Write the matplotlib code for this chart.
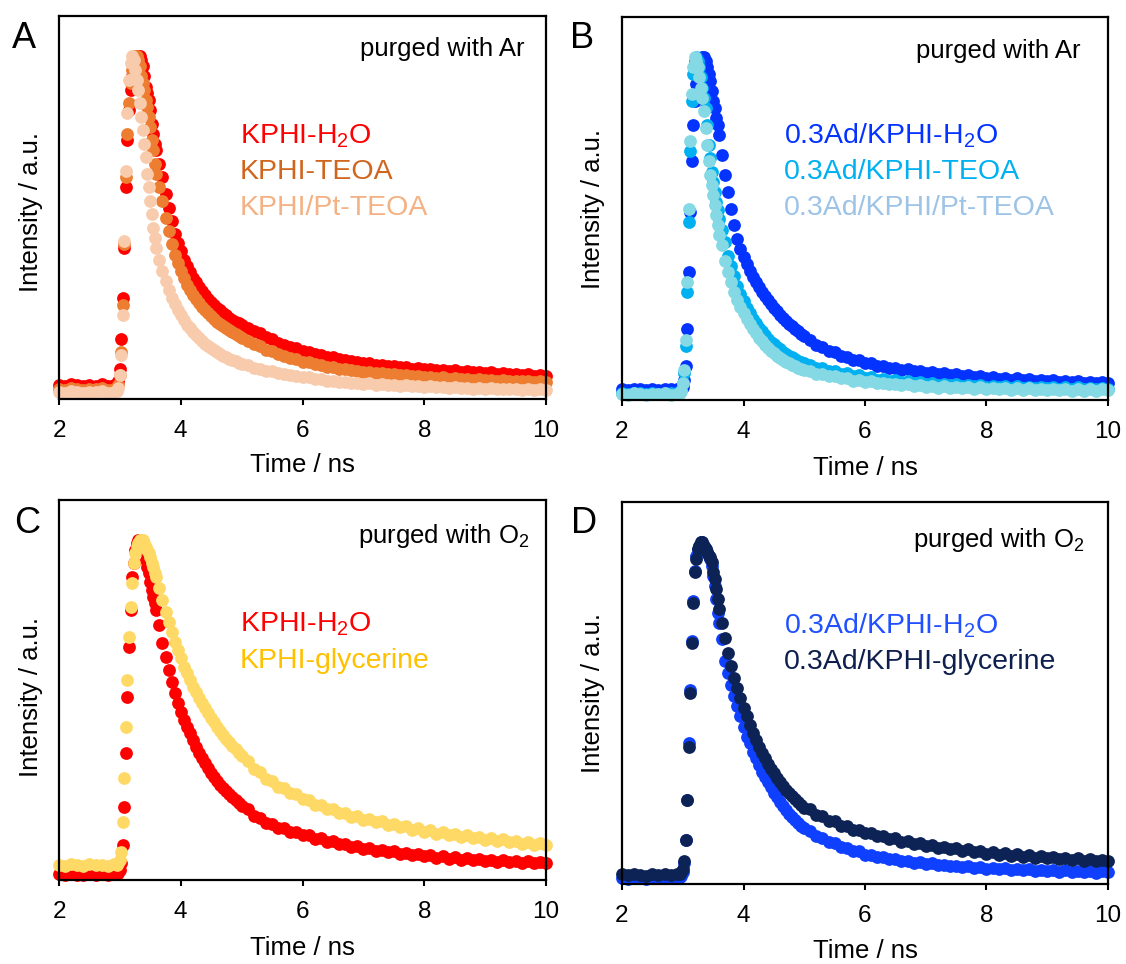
import matplotlib
matplotlib.use('Agg')
import matplotlib.pyplot as plt

plt.rcParams['font.family'] = ['Liberation Sans', 'DejaVu Sans']
plt.rcParams['mathtext.fontset'] = 'custom'
plt.rcParams['mathtext.rm'] = 'Liberation Sans'
plt.rcParams['mathtext.it'] = 'Liberation Sans:italic'
plt.rcParams['mathtext.bf'] = 'Liberation Sans:bold'

# ---------------- data (time in ns, normalised intensity) ----------------
T = [2.0, 2.1, 2.2, 2.3, 2.4, 2.5, 2.6, 2.7, 2.8, 2.9,
     2.95, 2.975, 3.0, 3.025, 3.05, 3.075, 3.1, 3.125, 3.15, 3.175, 3.2, 3.225, 3.25, 3.275,
     3.3, 3.325, 3.35, 3.375, 3.4, 3.425, 3.45, 3.475, 3.5, 3.525, 3.55, 3.575, 3.6,
     3.65, 3.7, 3.75, 3.8, 3.85, 3.9, 3.95, 4.0, 4.05, 4.1, 4.15, 4.2, 4.25, 4.3, 4.35, 4.4,
     4.45, 4.5, 4.55, 4.6, 4.65, 4.7, 4.75, 4.8, 4.85, 4.9, 4.95, 5.0,
     5.1, 5.2, 5.3, 5.4, 5.5, 5.6, 5.7, 5.8, 5.9, 6.0, 6.1, 6.2, 6.3, 6.4, 6.5, 6.6, 6.7, 6.8,
     6.9, 7.0, 7.1, 7.2, 7.3, 7.4, 7.5, 7.6, 7.7, 7.8, 7.9, 8.0, 8.1, 8.2, 8.3, 8.4, 8.5, 8.6,
     8.7, 8.8, 8.9, 9.0, 9.1, 9.2, 9.3, 9.4, 9.5, 9.6, 9.7, 9.8, 9.9, 10.0]

A_kphi_h2o = [0.022, 0.019, 0.024, 0.021, 0.018, 0.023, 0.020, 0.024, 0.019, 0.022,
              0.025, 0.035, 0.07, 0.16, 0.28, 0.43, 0.61, 0.75, 0.84, 0.90, 0.94, 0.97, 0.99, 1.0,
              1.0, 1.0, 0.99, 0.97, 0.94, 0.91, 0.89, 0.87, 0.84, 0.80, 0.77, 0.74, 0.72,
              0.68, 0.64, 0.59, 0.55, 0.51, 0.47, 0.445, 0.42, 0.395, 0.375, 0.357, 0.34, 0.327, 0.312,
              0.30, 0.29, 0.278, 0.27, 0.26, 0.251, 0.244, 0.236, 0.229, 0.222, 0.216, 0.21, 0.205, 0.199,
              0.192, 0.181, 0.175, 0.164, 0.158, 0.147, 0.142, 0.134, 0.131, 0.124,
              0.121, 0.114, 0.111, 0.105, 0.104, 0.099, 0.097, 0.093, 0.091, 0.087,
              0.087, 0.082, 0.081, 0.077, 0.077, 0.074, 0.074, 0.070, 0.071, 0.068,
              0.069, 0.065, 0.067, 0.063, 0.065, 0.061, 0.063, 0.059, 0.060, 0.057,
              0.059, 0.055, 0.057, 0.053, 0.055, 0.051, 0.053, 0.049, 0.051, 0.049]

A_kphi_teoa = [0.011, 0.008, 0.012, 0.010, 0.007, 0.011, 0.009, 0.012, 0.008, 0.010,
               0.014, 0.022, 0.05, 0.12, 0.26, 0.44, 0.64, 0.77, 0.86, 0.92, 0.96, 0.99, 1.0, 1.0,
               0.99, 0.97, 0.94, 0.92, 0.90, 0.87, 0.85, 0.82, 0.79, 0.75, 0.72, 0.68, 0.65,
               0.61, 0.57, 0.52, 0.48, 0.44, 0.41, 0.385, 0.36, 0.34, 0.32, 0.305, 0.29, 0.277, 0.265,
               0.255, 0.245, 0.235, 0.226, 0.218, 0.21, 0.203, 0.196, 0.19, 0.184, 0.178, 0.172, 0.167, 0.162,
               0.154, 0.143, 0.137, 0.127, 0.122, 0.113, 0.109, 0.101, 0.098, 0.091,
               0.089, 0.083, 0.081, 0.076, 0.075, 0.070, 0.069, 0.065, 0.064, 0.060,
               0.060, 0.056, 0.057, 0.053, 0.053, 0.050, 0.051, 0.047, 0.048, 0.045,
               0.046, 0.043, 0.044, 0.041, 0.042, 0.039, 0.041, 0.038, 0.039, 0.036,
               0.038, 0.035, 0.036, 0.034, 0.035, 0.033, 0.034, 0.032, 0.033, 0.032]

A_kphi_pt_teoa = [0.002, -0.001, 0.003, 0.0, -0.002, 0.002, 0.0, 0.003, -0.001, 0.001,
                  0.004, 0.012, 0.05, 0.11, 0.23, 0.45, 0.66, 0.83, 0.93, 0.98, 1.0, 0.99, 0.96, 0.93,
                  0.90, 0.86, 0.82, 0.78, 0.74, 0.70, 0.65, 0.61, 0.57, 0.53, 0.49, 0.46, 0.43,
                  0.395, 0.36, 0.33, 0.305, 0.28, 0.262, 0.245, 0.23, 0.215, 0.201, 0.19, 0.18, 0.17, 0.161,
                  0.153, 0.145, 0.138, 0.131, 0.125, 0.119, 0.114, 0.109, 0.104, 0.1, 0.096, 0.092, 0.088, 0.085,
                  0.080, 0.073, 0.070, 0.064, 0.062, 0.056, 0.055, 0.050, 0.049, 0.044,
                  0.044, 0.039, 0.039, 0.035, 0.035, 0.031, 0.032, 0.028, 0.029, 0.026,
                  0.027, 0.023, 0.025, 0.021, 0.023, 0.019, 0.021, 0.018, 0.019, 0.016,
                  0.018, 0.015, 0.016, 0.013, 0.015, 0.012, 0.014, 0.011, 0.013, 0.010,
                  0.012, 0.010, 0.011, 0.009, 0.010, 0.008, 0.010, 0.007, 0.009, 0.008]

B_ad_h2o = [0.013, 0.011, 0.014, 0.012, 0.010, 0.013, 0.011, 0.014, 0.012, 0.013,
            0.013, 0.014, 0.02, 0.04, 0.08, 0.19, 0.36, 0.54, 0.69, 0.80, 0.87, 0.92, 0.95, 0.97,
            0.99, 1.0, 1.0, 0.99, 0.97, 0.95, 0.93, 0.90, 0.87, 0.85, 0.82, 0.80, 0.77,
            0.71, 0.65, 0.60, 0.55, 0.50, 0.46, 0.43, 0.405, 0.385, 0.365, 0.347, 0.33, 0.316, 0.302,
            0.29, 0.278, 0.266, 0.255, 0.244, 0.234, 0.225, 0.215, 0.207, 0.199, 0.191, 0.184, 0.177, 0.17,
            0.160, 0.145, 0.139, 0.126, 0.122, 0.111, 0.109, 0.099, 0.098, 0.089,
            0.089, 0.081, 0.082, 0.075, 0.076, 0.069, 0.071, 0.065, 0.067, 0.061,
            0.063, 0.057, 0.059, 0.054, 0.056, 0.051, 0.053, 0.048, 0.050, 0.045,
            0.048, 0.043, 0.046, 0.041, 0.044, 0.039, 0.042, 0.037, 0.041, 0.036,
            0.039, 0.034, 0.037, 0.033, 0.036, 0.031, 0.035, 0.030, 0.033, 0.030]

B_ad_teoa = [0.001, -0.002, 0.002, 0.0, -0.001, 0.002, -0.001, 0.001, 0.0, 0.002,
             0.003, 0.01, 0.03, 0.06, 0.14, 0.30, 0.51, 0.72, 0.87, 0.95, 0.99, 1.0, 0.99, 0.97,
             0.94, 0.91, 0.88, 0.85, 0.80, 0.74, 0.70, 0.66, 0.63, 0.60, 0.57, 0.545, 0.52,
             0.485, 0.45, 0.41, 0.38, 0.35, 0.32, 0.295, 0.275, 0.255, 0.238, 0.222, 0.208, 0.195, 0.184,
             0.173, 0.163, 0.154, 0.146, 0.138, 0.131, 0.124, 0.118, 0.112, 0.107, 0.102, 0.097, 0.093, 0.089,
             0.085, 0.076, 0.075, 0.066, 0.066, 0.058, 0.059, 0.052, 0.053, 0.046,
             0.048, 0.041, 0.043, 0.037, 0.039, 0.034, 0.036, 0.031, 0.033, 0.028,
             0.031, 0.026, 0.029, 0.024, 0.027, 0.022, 0.025, 0.021, 0.024, 0.019,
             0.023, 0.018, 0.022, 0.017, 0.021, 0.016, 0.020, 0.016, 0.019, 0.015,
             0.019, 0.014, 0.018, 0.014, 0.018, 0.013, 0.017, 0.013, 0.017, 0.014]

B_ad_pt_teoa = [-0.002, -0.004, 0.0, -0.003, -0.005, -0.001, -0.003, 0.0, -0.004, -0.002,
                0.0, 0.008, 0.03, 0.07, 0.16, 0.33, 0.55, 0.75, 0.89, 0.97, 1.0, 0.99, 0.97, 0.94,
                0.91, 0.88, 0.84, 0.79, 0.74, 0.69, 0.65, 0.62, 0.59, 0.56, 0.53, 0.50, 0.47,
                0.44, 0.395, 0.36, 0.33, 0.30, 0.278, 0.258, 0.24, 0.222, 0.206, 0.192, 0.178, 0.166, 0.155,
                0.145, 0.136, 0.127, 0.119, 0.112, 0.105, 0.099, 0.094, 0.089, 0.084, 0.08, 0.076, 0.072, 0.069,
                0.066, 0.058, 0.058, 0.050, 0.051, 0.044, 0.045, 0.038, 0.040, 0.034,
                0.036, 0.030, 0.032, 0.027, 0.029, 0.024, 0.027, 0.021, 0.024, 0.019,
                0.022, 0.017, 0.021, 0.016, 0.020, 0.015, 0.019, 0.014, 0.018, 0.013,
                0.017, 0.012, 0.016, 0.011, 0.016, 0.010, 0.015, 0.010, 0.014, 0.009,
                0.014, 0.009, 0.013, 0.008, 0.013, 0.008, 0.012, 0.008, 0.012, 0.009]

C_kphi_h2o = [-0.003, -0.006, -0.002, -0.005, -0.004, -0.002, -0.006, -0.003, -0.005, -0.002,
              -0.002, 0.0, 0.01, 0.03, 0.085, 0.2, 0.36, 0.53, 0.68, 0.79, 0.89, 0.93, 0.97, 0.99,
              1.0, 1.0, 0.99, 0.98, 0.97, 0.94, 0.92, 0.90, 0.875, 0.85, 0.83, 0.81, 0.79,
              0.745, 0.69, 0.65, 0.61, 0.575, 0.54, 0.51, 0.485, 0.46, 0.44, 0.42, 0.40, 0.38, 0.36,
              0.345, 0.33, 0.315, 0.30, 0.288, 0.277, 0.266, 0.256, 0.246, 0.237, 0.228, 0.219, 0.211, 0.203,
              0.192, 0.173, 0.167, 0.152, 0.149, 0.137, 0.136, 0.125, 0.124, 0.114,
              0.114, 0.104, 0.105, 0.095, 0.096, 0.087, 0.088, 0.080, 0.082, 0.074,
              0.076, 0.068, 0.071, 0.063, 0.066, 0.059, 0.062, 0.055, 0.058, 0.051,
              0.054, 0.047, 0.051, 0.044, 0.048, 0.041, 0.045, 0.039, 0.043, 0.037,
              0.041, 0.035, 0.039, 0.033, 0.037, 0.031, 0.036, 0.030, 0.034, 0.031]

C_kphi_gly = [0.026, 0.023, 0.028, 0.025, 0.022, 0.027, 0.024, 0.026, 0.023, 0.027,
              0.026, 0.03, 0.04, 0.065, 0.155, 0.285, 0.44, 0.58, 0.71, 0.80, 0.87, 0.93, 0.96, 0.98,
              0.99, 1.0, 1.0, 1.0, 0.99, 0.98, 0.97, 0.96, 0.95, 0.93, 0.92, 0.90, 0.89,
              0.855, 0.82, 0.785, 0.755, 0.725, 0.695, 0.67, 0.645, 0.62, 0.60, 0.58, 0.56, 0.543, 0.527,
              0.511, 0.496, 0.481, 0.467, 0.453, 0.44, 0.428, 0.416, 0.404, 0.393, 0.382, 0.372, 0.362, 0.352,
              0.337, 0.313, 0.304, 0.283, 0.277, 0.259, 0.256, 0.240, 0.238, 0.222,
              0.221, 0.206, 0.206, 0.193, 0.193, 0.180, 0.182, 0.170, 0.173, 0.161,
              0.164, 0.153, 0.156, 0.145, 0.148, 0.138, 0.142, 0.131, 0.135, 0.125,
              0.129, 0.119, 0.124, 0.114, 0.119, 0.109, 0.114, 0.105, 0.110, 0.101,
              0.106, 0.097, 0.102, 0.093, 0.098, 0.089, 0.094, 0.085, 0.091, 0.085]

D_ad_h2o = [-0.001, -0.004, 0.0, -0.002, -0.004, -0.001, -0.003, 0.0, -0.003, -0.001,
            0.0, 0.005, 0.015, 0.043, 0.11, 0.23, 0.40, 0.56, 0.705, 0.825, 0.915, 0.96, 0.98, 0.99,
            1.0, 1.0, 0.99, 0.98, 0.97, 0.96, 0.95, 0.93, 0.90, 0.87, 0.83, 0.79, 0.76,
            0.71, 0.645, 0.61, 0.575, 0.54, 0.51, 0.48, 0.45, 0.42, 0.40, 0.375, 0.355, 0.335, 0.315,
            0.30, 0.285, 0.268, 0.253, 0.24, 0.226, 0.213, 0.201, 0.19, 0.18, 0.17, 0.161, 0.153, 0.146,
            0.138, 0.124, 0.118, 0.105, 0.101, 0.090, 0.087, 0.078, 0.077, 0.068,
            0.068, 0.060, 0.061, 0.054, 0.055, 0.048, 0.050, 0.044, 0.046, 0.040,
            0.042, 0.036, 0.038, 0.033, 0.035, 0.030, 0.033, 0.028, 0.031, 0.026,
            0.029, 0.024, 0.027, 0.022, 0.025, 0.021, 0.024, 0.019, 0.023, 0.018,
            0.022, 0.017, 0.021, 0.016, 0.020, 0.015, 0.019, 0.014, 0.018, 0.015]

D_ad_gly = [0.009, 0.006, 0.010, 0.008, 0.005, 0.009, 0.007, 0.010, 0.006, 0.009,
            0.01, 0.015, 0.025, 0.05, 0.11, 0.23, 0.39, 0.55, 0.70, 0.82, 0.91, 0.95, 0.98, 0.99,
            1.0, 1.0, 0.99, 0.98, 0.97, 0.96, 0.955, 0.94, 0.91, 0.89, 0.86, 0.83, 0.80,
            0.76, 0.715, 0.67, 0.63, 0.595, 0.565, 0.535, 0.505, 0.48, 0.455, 0.432, 0.41, 0.39, 0.372,
            0.355, 0.339, 0.324, 0.31, 0.297, 0.285, 0.273, 0.262, 0.252, 0.242, 0.233, 0.224, 0.216, 0.208,
            0.203, 0.187, 0.184, 0.169, 0.167, 0.154, 0.154, 0.142, 0.142, 0.131,
            0.132, 0.122, 0.124, 0.114, 0.116, 0.106, 0.109, 0.099, 0.102, 0.093,
            0.096, 0.088, 0.091, 0.083, 0.087, 0.079, 0.083, 0.075, 0.079, 0.071,
            0.076, 0.068, 0.073, 0.065, 0.069, 0.062, 0.066, 0.059, 0.064, 0.057,
            0.061, 0.054, 0.059, 0.052, 0.057, 0.050, 0.055, 0.048, 0.053, 0.049]

x_ticks = [2, 4, 6, 8, 10]
x_tick_labels = ['2', '4', '6', '8', '10']

panels = [
    dict(letter='A', cond='purged with Ar',
         series=[(A_kphi_h2o, '#FF0000', 'KPHI-H$_\\mathregular{2}$O', '#FF0000'),
                 (A_kphi_teoa, '#ED7D31', 'KPHI-TEOA', '#D0661E'),
                 (A_kphi_pt_teoa, '#F8CBAD', 'KPHI/Pt-TEOA', '#F4B183')]),
    dict(letter='B', cond='purged with Ar',
         series=[(B_ad_h2o, '#0433FF', '0.3Ad/KPHI-H$_\\mathregular{2}$O', '#0433FF'),
                 (B_ad_teoa, '#00B0F0', '0.3Ad/KPHI-TEOA', '#00B0F0'),
                 (B_ad_pt_teoa, '#84D9E4', '0.3Ad/KPHI/Pt-TEOA', '#9DC3E6')]),
    dict(letter='C', cond='purged with O$_\\mathregular{2}$',
         series=[(C_kphi_h2o, '#FF0000', 'KPHI-H$_\\mathregular{2}$O', '#FF0000'),
                 (C_kphi_gly, '#FFD966', 'KPHI-glycerine', '#FFC000')]),
    dict(letter='D', cond='purged with O$_\\mathregular{2}$',
         series=[(D_ad_h2o, '#1040FF', '0.3Ad/KPHI-H$_\\mathregular{2}$O', '#2050FF'),
                 (D_ad_gly, '#0D2356', '0.3Ad/KPHI-glycerine', '#0E1F4D')]),
]

# ---------------- layout (pixel based) ----------------
W, H = 1126, 964
fig = plt.figure(figsize=(W / 100, H / 100), dpi=100)


def fx(x):
    return x / W


def fy(y):
    return 1 - y / H


geom = [
    dict(box=(59, 16, 546, 399), letter=(12, 48), cond=(525, 56), leg=(240, 143),
         xl=472, yl=(31, 212)),
    dict(box=(622, 17, 1108, 400), letter=(570, 48), cond=(1080, 58), leg=(784, 143),
         xl=475, yl=(593, 209)),
    dict(box=(59, 500, 546, 880), letter=(14, 533), cond=(530, 543), leg=(240, 632),
         xl=955, yl=(31, 697)),
    dict(box=(622, 502, 1108, 884), letter=(571, 533), cond=(1085, 547), leg=(784, 633),
         xl=958, yl=(593, 693)),
]

for p, g in zip(panels, geom):
    l, t, r, b = g['box']
    ax = fig.add_axes([fx(l), fy(b), (r - l) / W, (b - t) / H])
    for vals, mc, _, _ in p['series']:
        if len(vals) != len(T):
            raise ValueError('length mismatch %d vs %d' % (len(vals), len(T)))
        ax.plot(T, vals, linestyle='none', marker='o', markersize=9.2,
                markerfacecolor=mc, markeredgecolor='none', clip_on=False, zorder=3)
    ax.set_xlim(2, 10)
    ax.set_ylim(-0.02, 1.12)
    ax.set_xticks(x_ticks)
    ax.set_xticklabels(x_tick_labels)
    ax.set_yticks([])
    ax.tick_params(axis='x', direction='out', length=4, width=1.5, pad=11,
                   labelsize=17.5, colors='black')
    for s in ax.spines.values():
        s.set_linewidth(1.6)
        s.set_color('black')
        s.set_zorder(4)

    fig.text(fx(g['letter'][0]), fy(g['letter'][1]), p['letter'], fontsize=26,
             ha='left', va='baseline')
    fig.text(fx(g['cond'][0]), fy(g['cond'][1]), p['cond'], fontsize=18.5,
             ha='right', va='baseline')
    lx, ly = g['leg']
    for i, (_, _, lab, tc) in enumerate(p['series']):
        fig.text(fx(lx), fy(ly + 36 * i), lab, fontsize=20.5, color=tc,
                 ha='left', va='baseline')
    fig.text(fx((l + r) / 2), fy(g['xl']), 'Time / ns', fontsize=18.5,
             ha='center', va='baseline')
    fig.text(fx(g['yl'][0]), fy(g['yl'][1]), 'Intensity / a.u.', fontsize=18.5,
             rotation=90, ha='center', va='center')

fig.savefig('out.png', dpi=100)
